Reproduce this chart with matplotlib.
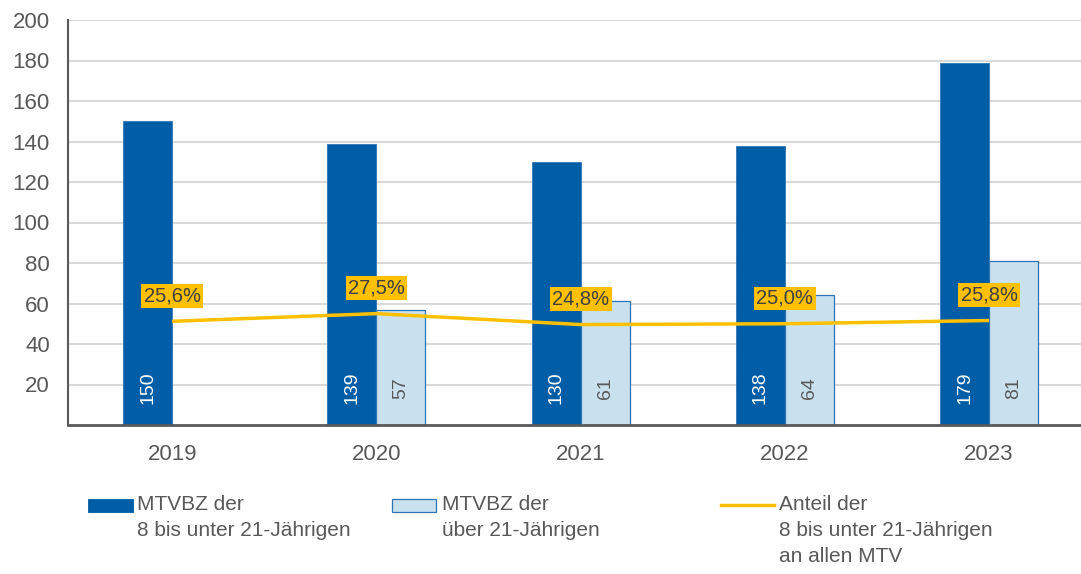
import matplotlib.pyplot as plt
from matplotlib.patches import Rectangle
from matplotlib.lines import Line2D

plt.rcParams['font.family'] = ['Liberation Sans', 'DejaVu Sans']

years = ["2019", "2020", "2021", "2022", "2023"]
young = [150, 139, 130, 138, 179]
older = [None, 57, 61, 64, 81]
share = [25.6, 27.5, 24.8, 25.0, 25.8]
share_labels = ["25,6%", "27,5%", "24,8%", "25,0%", "25,8%"]

dark = "#005DA6"
light = "#C9E0EF"
yellow = "#FFC000"
grey = "#595959"

fig = plt.figure(figsize=(10.81, 5.74), dpi=100)
ax = fig.add_axes([68 / 1081, 1 - 425 / 574, 1 - 68 / 1081, 405 / 574])

x = list(range(len(years)))
w = 0.24
for i in x:
    ax.bar(i - w / 2, young[i], w, color=dark, edgecolor="#2E75B6", linewidth=0.6, zorder=2)
    ax.text(i - w / 2, 18.3, str(young[i]), rotation=90, ha="center", va="center",
            color="white", fontsize=14, zorder=4)
    if older[i] is not None:
        ax.bar(i + w / 2, older[i], w, color=light, edgecolor="#2E75B6", linewidth=0.9, zorder=2)
        ax.text(i + w / 2, 18.3, str(older[i]), rotation=90, ha="center", va="center",
                color=grey, fontsize=14, zorder=4)

# share plotted on the same axis (percent * 2)
line_y = [s * 2 for s in share]
ax.plot(x, line_y, color=yellow, linewidth=2.5, zorder=3, solid_capstyle="butt")
for i in x:
    ax.text(i, line_y[i] + 12.5, share_labels[i], ha="center", va="center", fontsize=14.5,
            color="#404040", zorder=5,
            bbox=dict(boxstyle="square,pad=0.12", fc=yellow, ec="none"))

ax.set_ylim(0, 200)
ax.set_xlim(-0.51, 4.45)
ax.set_yticks(range(20, 201, 20))
ax.set_xticks(x)
ax.set_xticklabels(years)
ax.tick_params(axis="both", length=0, labelsize=16, colors=grey)
ax.tick_params(axis="x", pad=14)
ax.tick_params(axis="y", pad=13)
ax.grid(axis="y", color="#D9D9D9", linewidth=1.5, zorder=0)
ax.set_axisbelow(True)
for s in ["top", "right"]:
    ax.spines[s].set_visible(False)
ax.spines["left"].set_color(grey)
ax.spines["left"].set_linewidth(1.5)
ax.spines["bottom"].set_color(grey)
ax.spines["bottom"].set_linewidth(2)

# legend
W, H = 1081, 574
fig.patches.append(Rectangle((88 / W, 1 - 512 / H), 45 / W, 13 / H, transform=fig.transFigure,
                             fc=dark, ec=dark, lw=0.6))
fig.patches.append(Rectangle((392 / W, 1 - 512 / H), 44 / W, 13 / H, transform=fig.transFigure,
                             fc=light, ec="#2E75B6", lw=0.9))
fig.lines.append(Line2D([721 / W, 774 / W], [1 - 505 / H] * 2, transform=fig.transFigure,
                        color=yellow, lw=2.5))
legend_texts = [(137, "MTVBZ der\n8 bis unter 21-Jährigen"),
                (442, "MTVBZ der\nüber 21-Jährigen"),
                (779, "Anteil der\n8 bis unter 21-Jährigen\nan allen MTV")]
for px, t in legend_texts:
    fig.text(px / W, 1 - 495 / H, t, ha="left", va="top", fontsize=15, color=grey,
             linespacing=1.45)

fig.savefig("out.png", dpi=100)
